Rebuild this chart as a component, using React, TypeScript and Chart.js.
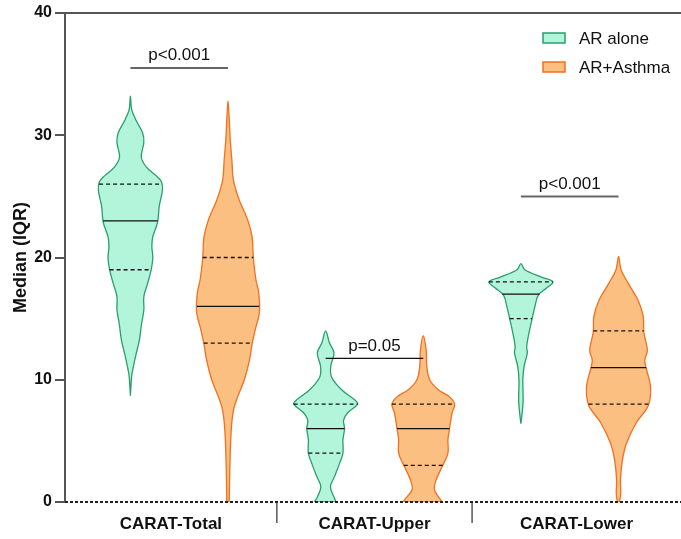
import React, { useEffect, useRef } from 'react';
import { Chart, registerables } from 'chart.js';

Chart.register(...registerables);

const categories = ['CARAT-Total', 'CARAT-Upper', 'CARAT-Lower'];
const groups = ['AR alone', 'AR+Asthma'];
const yTicks = [0, 10, 20, 30, 40];

// Violin outlines: score levels and relative half-widths (density)
const totalAloneY = [8.7, 10, 10.5, 11.9, 13.25, 14.6, 15.7, 16.8, 17.9, 19, 20, 20.9, 21.7, 22.9, 24.2, 25.5, 26.2, 26.7, 27.4, 28.2, 29.4, 30.2, 31.2, 32.1, 33.2];
const totalAloneW = [0, 0.03, 0.05, 0.16, 0.28, 0.35, 0.42, 0.42, 0.54, 0.65, 0.7, 0.67, 0.7, 0.85, 0.9, 1.0, 0.97, 0.8, 0.5, 0.34, 0.42, 0.38, 0.18, 0.04, 0];

const totalAsthmaY = [0, 0.4, 3.2, 5.9, 7.5, 8.6, 10, 11.6, 12.9, 14.3, 15.5, 17.1, 18.2, 20, 21.7, 23.1, 24.7, 26.3, 28, 29.6, 31.2, 32.8];
const totalAsthmaW = [0.03, 0.04, 0.06, 0.1, 0.17, 0.3, 0.51, 0.67, 0.75, 0.87, 0.98, 0.96, 0.87, 0.79, 0.75, 0.61, 0.35, 0.17, 0.12, 0.07, 0.04, 0];

const upperAloneY = [0, 0.4, 1.25, 2.1, 3.2, 4, 5.1, 6, 6.7, 7.3, 8, 8.3, 9.2, 10.25, 11.1, 12.2, 13, 14];
const upperAloneW = [0.33, 0.26, 0.15, 0.28, 0.44, 0.54, 0.54, 0.59, 0.56, 0.69, 1.0, 0.93, 0.49, 0.18, 0.16, 0.26, 0.12, 0];

const upperAsthmaY = [0, 1, 1.8, 3, 4, 5.1, 6, 7.3, 8, 8.6, 9.2, 10, 11.1, 12.4, 13.6];
const upperAsthmaW = [0.59, 0.35, 0.4, 0.61, 0.77, 0.77, 0.82, 0.9, 0.98, 0.82, 0.46, 0.2, 0.11, 0.09, 0];

const lowerAloneY = [6.4, 7.3, 8.3, 10, 11.1, 12.2, 12.7, 13.8, 15, 16, 16.9, 17.5, 18, 18.4, 19, 19.5];
const lowerAloneW = [0, 0.04, 0.07, 0.06, 0.1, 0.2, 0.18, 0.25, 0.35, 0.44, 0.54, 0.8, 1.0, 0.64, 0.12, 0];

const lowerAsthmaY = [0, 0.7, 1.8, 3.4, 4.8, 6.5, 7.9, 9.4, 10.9, 11.6, 12.4, 13.9, 15.2, 16.5, 17.9, 19, 20.1];
const lowerAsthmaW = [0.03, 0.07, 0.06, 0.12, 0.25, 0.56, 0.93, 1.0, 0.87, 0.82, 0.9, 0.79, 0.77, 0.61, 0.3, 0.08, 0];

// Median and IQR per violin (Total alone, Total asthma, Upper alone, Upper asthma, Lower alone, Lower asthma)
const medians = [23, 16, 6, 6, 17, 11];
const q1s = [19, 13, 4, 3, 15, 8];
const q3s = [26, 20, 8, 8, 18, 14];

// Significance annotations per category
const pTexts = ['p<0.001', 'p=0.05', 'p<0.001'];
const pLevels = [35.5, 11.75, 25];

const FONT = "'Liberation Sans', Arial, Helvetica, sans-serif";
const HALF = 0.328;
const fills = ['#b3f5db', '#fbbf82'];
const strokes = ['#2a9e6c', '#f2701e'];
const pStyles = [
  { color: '#666', width: 2 },
  { color: '#111', width: 1.2 },
  { color: '#666', width: 2 },
];

const violins = [
  { y: totalAloneY, w: totalAloneW },
  { y: totalAsthmaY, w: totalAsthmaW },
  { y: upperAloneY, w: upperAloneW },
  { y: upperAsthmaY, w: upperAsthmaW },
  { y: lowerAloneY, w: lowerAloneW },
  { y: lowerAsthmaY, w: lowerAsthmaW },
];

function widthAt(ys: number[], ws: number[], v: number): number {
  if (v <= ys[0]) return ws[0];
  for (let k = 1; k < ys.length; k++) {
    if (v <= ys[k]) {
      const t = (v - ys[k - 1]) / (ys[k] - ys[k - 1]);
      return ws[k - 1] + t * (ws[k] - ws[k - 1]);
    }
  }
  return ws[ws.length - 1];
}

function buildDatasets() {
  const ds: any[] = [];
  violins.forEach((v, i) => {
    const g = i % 2;
    const pts: { x: number; y: number }[] = [];
    for (let k = 0; k < v.y.length; k++) pts.push({ x: i + v.w[k] * HALF, y: v.y[k] });
    for (let k = v.y.length - 1; k >= 0; k--) {
      if (v.w[k] > 0) pts.push({ x: i - v.w[k] * HALF, y: v.y[k] });
    }
    pts.push({ ...pts[0] });
    ds.push({
      type: 'line',
      label: groups[g],
      data: pts,
      borderColor: strokes[g],
      backgroundColor: fills[g],
      borderWidth: 1.3,
      fill: 'shape',
      pointRadius: 0,
      tension: 0.35,
      order: 2,
    });
    const levels = [
      { val: q1s[i], dash: [4, 3] },
      { val: medians[i], dash: [] },
      { val: q3s[i], dash: [4, 3] },
    ];
    levels.forEach((l) => {
      const hw = widthAt(v.y, v.w, l.val) * HALF;
      ds.push({
        type: 'line',
        label: 'q',
        data: [
          { x: i - hw, y: l.val },
          { x: i + hw, y: l.val },
        ],
        borderColor: '#111',
        borderWidth: 1.3,
        borderDash: l.dash,
        fill: false,
        pointRadius: 0,
        tension: 0,
        order: 0,
      });
    });
  });
  return ds;
}

const decorPlugin = {
  id: 'decor',
  afterDraw(chart: any) {
    const { ctx, chartArea, scales } = chart;
    const xs = scales.x;
    const ys = scales.y;
    const { left, right, top, bottom } = chartArea;
    ctx.save();
    // top frame line
    ctx.strokeStyle = '#555';
    ctx.lineWidth = 2;
    ctx.beginPath();
    ctx.moveTo(left, top);
    ctx.lineTo(right, top);
    ctx.stroke();
    // dotted x axis
    ctx.strokeStyle = '#222';
    ctx.lineWidth = 2;
    ctx.setLineDash([3, 2]);
    ctx.beginPath();
    ctx.moveTo(left, bottom);
    ctx.lineTo(right, bottom);
    ctx.stroke();
    ctx.setLineDash([]);
    // category separators
    const seps: number[] = [];
    for (let c = 1; c < categories.length; c++) seps.push(xs.getPixelForValue(c * 2 - 0.5));
    ctx.strokeStyle = '#555';
    ctx.lineWidth = 1.5;
    seps.forEach((sx) => {
      ctx.beginPath();
      ctx.moveTo(sx, bottom + 1);
      ctx.lineTo(sx, bottom + 21);
      ctx.stroke();
    });
    // category labels centred between separators
    const edges = [left, ...seps, right];
    ctx.fillStyle = '#111';
    ctx.font = `bold 17px ${FONT}`;
    ctx.textAlign = 'center';
    ctx.textBaseline = 'middle';
    categories.forEach((c, i) => {
      ctx.fillText(c, (edges[i] + edges[i + 1]) / 2, bottom + 22);
    });
    // p-value annotations
    ctx.font = `17px ${FONT}`;
    ctx.textBaseline = 'bottom';
    pTexts.forEach((t, i) => {
      const x1 = xs.getPixelForValue(i * 2);
      const x2 = xs.getPixelForValue(i * 2 + 1);
      const py = ys.getPixelForValue(pLevels[i]);
      ctx.strokeStyle = pStyles[i].color;
      ctx.lineWidth = pStyles[i].width;
      ctx.beginPath();
      ctx.moveTo(x1, py);
      ctx.lineTo(x2, py);
      ctx.stroke();
      ctx.fillStyle = '#111';
      ctx.fillText(t, (x1 + x2) / 2, py - 4);
    });
    // legend
    ctx.textAlign = 'left';
    ctx.textBaseline = 'middle';
    groups.forEach((g, i) => {
      const bx = right - 138;
      const cy = top + 25 + i * 29;
      ctx.fillStyle = fills[i];
      ctx.fillRect(bx, cy - 5, 22, 10);
      ctx.strokeStyle = strokes[i];
      ctx.lineWidth = 1.5;
      ctx.strokeRect(bx, cy - 5, 22, 10);
      ctx.fillStyle = '#111';
      ctx.fillText(g, bx + 36, cy + 1);
    });
    ctx.restore();
  },
};

export default function App() {
  const ref = useRef<HTMLCanvasElement | null>(null);
  useEffect(() => {
    document.body.style.margin = '0';
    if (!ref.current) return;
    const chart = new Chart(ref.current, {
      type: 'line',
      data: { datasets: buildDatasets() },
      options: {
        responsive: false,
        animation: false,
        layout: { padding: { top: 13, bottom: 37, left: 0, right: 0 } },
        plugins: { legend: { display: false }, tooltip: { enabled: false } },
        scales: {
          x: {
            type: 'linear',
            min: -0.67,
            max: 5.64,
            display: false,
          },
          y: {
            type: 'linear',
            min: yTicks[0],
            max: yTicks[yTicks.length - 1],
            afterBuildTicks: (s: any) => {
              s.ticks = yTicks.map((v) => ({ value: v }));
            },
            afterFit: (s: any) => {
              s.width = 65;
            },
            ticks: {
              color: '#111',
              padding: 3,
              font: { family: FONT, size: 16, weight: 'bold' },
            },
            grid: {
              drawOnChartArea: false,
              drawTicks: true,
              tickLength: 10,
              color: '#555',
              lineWidth: 2,
            },
            border: { display: true, color: '#555', width: 2 },
            title: {
              display: true,
              text: 'Median (IQR)',
              color: '#111',
              font: { family: FONT, size: 18, weight: 'bold' },
              padding: { top: 10, bottom: 0 },
            },
          },
        },
      },
      plugins: [decorPlugin],
    } as any);
    return () => chart.destroy();
  }, []);
  return (
    <div style={{ width: 681, height: 539 }}>
      <canvas ref={ref} width={681} height={539} style={{ display: 'block' }} />
    </div>
  );
}
